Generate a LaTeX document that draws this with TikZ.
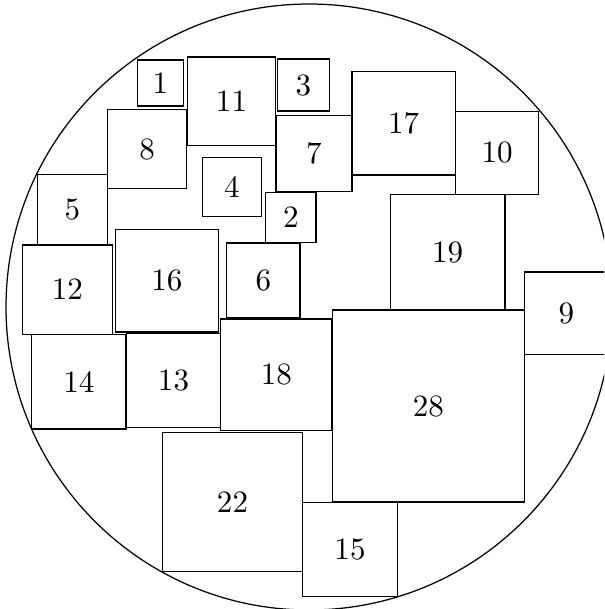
\documentclass[tikz,border=0pt]{standalone}
\usetikzlibrary{fit}
\begin{document}
\begin{tikzpicture}[x=0.322pt,y=-0.322pt,
  sq/.style={draw,line width=0.4pt,inner sep=0pt,outer sep=0pt},
  lab/.style={inner sep=0pt,font=\normalsize}]
\useasboundingbox (0,0) rectangle (604,609);
\clip (0,0) rectangle (604,609);
\node[draw,circle,inner sep=0pt,minimum size=195.13pt,line width=0.4pt] (ring) at (309,307) {};
\node[sq,fit={(137.3,60) (183.3,106)}] (s1) {};
\node[sq,fit={(187.3,57) (275.7,145.7)}] (s11) {};
\node[sq,fit={(277.3,59) (329.3,111)}] (s3) {};
\node[sq,fit={(352,71.7) (455.3,175)}] (s17) {};
\node[sq,fit={(107.7,109.7) (186.7,188.7)}] (s8) {};
\node[sq,fit={(276,115.3) (352,191.7)}] (s7) {};
\node[sq,fit={(455.7,111.3) (538.7,194.3)}] (s10) {};
\node[sq,fit={(202.3,157.3) (261.7,216.7)}] (s4) {};
\node[sq,fit={(37.3,174.3) (107.7,244.3)}] (s5) {};
\node[sq,fit={(265.7,192.3) (316,242.3)}] (s2) {};
\node[sq,fit={(390.3,194.7) (505,310)}] (s19) {};
\node[sq,fit={(22.7,245) (112.3,334.3)}] (s12) {};
\node[sq,fit={(115.7,229.7) (218.3,332)}] (s16) {};
\node[sq,fit={(226.7,243) (300,317.3)}] (s6) {};
\node[sq,fit={(524.7,272) (608,354.7)}] (s9) {};
\node[sq,fit={(31.7,334.3) (126,429)}] (s14) {};
\node[sq,fit={(126.7,333.7) (220.3,427.7)}] (s13) {};
\node[sq,fit={(220.7,319) (332,430.5)}] (s18) {};
\node[sq,fit={(162.7,432.3) (302.3,571.7)}] (s22) {};
\node[sq,fit={(332.3,310) (524.3,502)}] (s28) {};
\node[sq,fit={(302.7,502.3) (397.3,596.7)}] (s15) {};
\node[lab] (t1) at (s1.center) {1};
\node[lab] (t11) at (s11.center) {11};
\node[lab] (t3) at (s3.center) {3};
\node[lab] (t17) at (s17.center) {17};
\node[lab] (t8) at (s8.center) {8};
\node[lab] (t7) at (s7.center) {7};
\node[lab] (t10) at (s10.center) {10};
\node[lab] (t4) at (s4.center) {4};
\node[lab] (t5) at (s5.center) {5};
\node[lab] (t2) at (s2.center) {2};
\node[lab] (t19) at (s19.center) {19};
\node[lab] (t12) at (s12.center) {12};
\node[lab] (t16) at (s16.center) {16};
\node[lab] (t6) at (s6.center) {6};
\node[lab] (t9) at (s9.center) {9};
\node[lab] (t14) at (s14.center) {14};
\node[lab] (t13) at (s13.center) {13};
\node[lab] (t18) at (s18.center) {18};
\node[lab] (t22) at (s22.center) {22};
\node[lab] (t28) at (s28.center) {28};
\node[lab] (t15) at (s15.center) {15};
\end{tikzpicture}
\end{document}
